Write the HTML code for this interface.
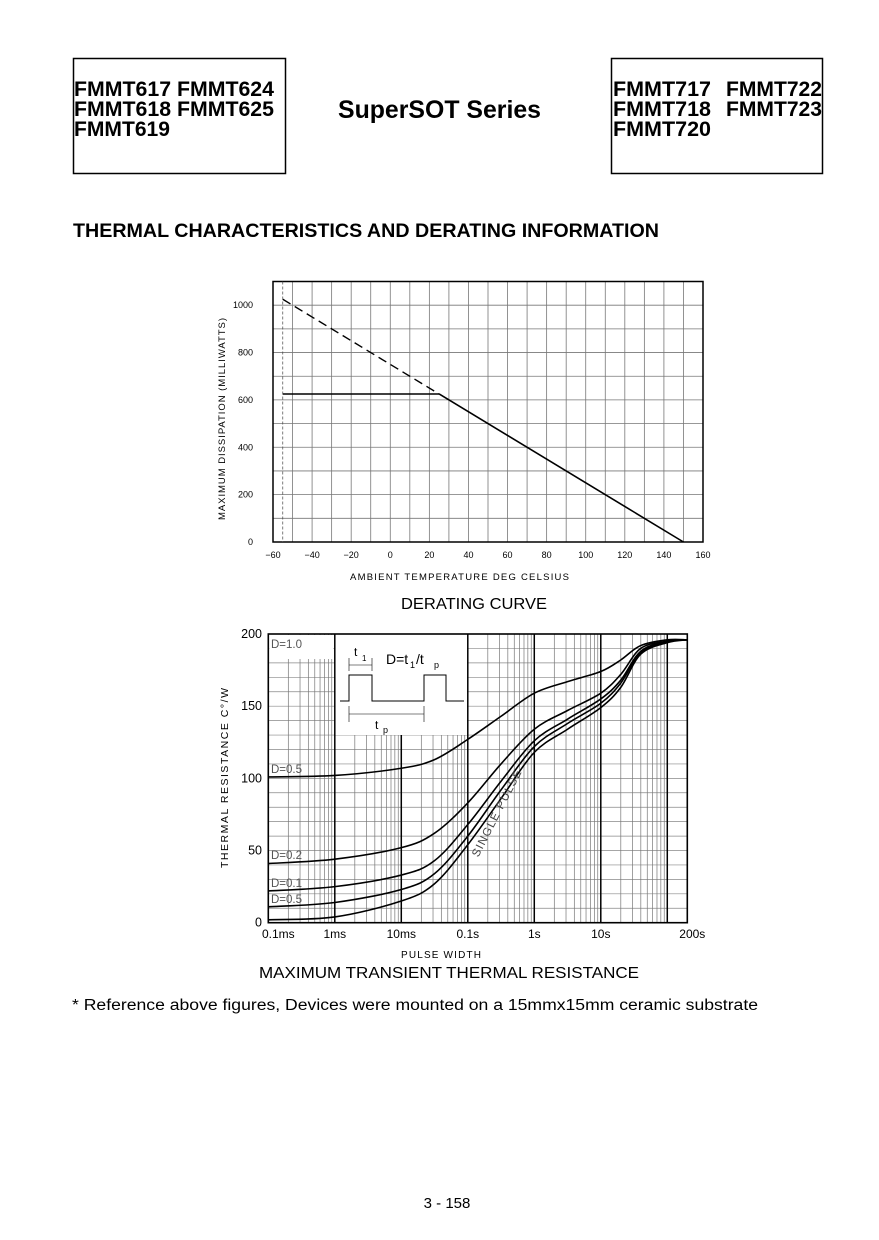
<!DOCTYPE html>
<html><head><meta charset="utf-8"><style>
body{margin:0;background:#fff}
svg{display:block;font-family:"Liberation Sans",sans-serif}
</style></head><body>
<svg id="pg" width="879" height="1240" viewBox="0 0 879 1240" xmlns="http://www.w3.org/2000/svg">
<rect width="879" height="1240" fill="#fff"/>
<g>
<rect x="73.5" y="58.5" width="212" height="115" fill="none" stroke="#000" stroke-width="1.5"/>
<g font-weight="bold" font-size="21">
<text x="74" y="96" textLength="200" lengthAdjust="spacingAndGlyphs">FMMT617 FMMT624</text>
<text x="74" y="116" textLength="200" lengthAdjust="spacingAndGlyphs">FMMT618 FMMT625</text>
<text x="74" y="136" textLength="96" lengthAdjust="spacingAndGlyphs">FMMT619</text>
</g></g>
<text x="338" y="118" font-weight="bold" font-size="25" textLength="203" lengthAdjust="spacingAndGlyphs">SuperSOT Series</text>
<g>
<rect x="611.5" y="58.5" width="211" height="115" fill="none" stroke="#000" stroke-width="1.5"/>
<g font-weight="bold" font-size="21">
<text x="613" y="96" textLength="98" lengthAdjust="spacingAndGlyphs">FMMT717</text>
<text x="726" y="96" textLength="96" lengthAdjust="spacingAndGlyphs">FMMT722</text>
<text x="613" y="116" textLength="98" lengthAdjust="spacingAndGlyphs">FMMT718</text>
<text x="726" y="116" textLength="96" lengthAdjust="spacingAndGlyphs">FMMT723</text>
<text x="613" y="136" textLength="98" lengthAdjust="spacingAndGlyphs">FMMT720</text>
</g></g>
<text x="73" y="237" font-weight="bold" font-size="19" textLength="586" lengthAdjust="spacingAndGlyphs">THERMAL CHARACTERISTICS AND DERATING INFORMATION</text>

<g id="der"></g>
<text x="474" y="609" text-anchor="middle" font-size="16" textLength="146" lengthAdjust="spacingAndGlyphs">DERATING CURVE</text>

<g id="tr"></g>
<text x="259" y="978" font-size="16" textLength="380" lengthAdjust="spacingAndGlyphs">MAXIMUM TRANSIENT THERMAL RESISTANCE</text>
<text x="72" y="1010" font-size="15.5" textLength="686" lengthAdjust="spacingAndGlyphs">* Reference above figures, Devices were mounted on a 15mmx15mm ceramic substrate</text>
<text x="447" y="1208" text-anchor="middle" font-size="15">3 - 158</text>
</svg>
<script>
// ---- Derating data ----
const derXTicks=[-60,-40,-20,0,20,40,60,80,100,120,140,160];
const derYTicks=[0,200,400,600,800,1000];
const derDashedT=[-55,25];
const derDashedP=[1025,625];
const derFlatT=[-55,25];
const derFlatP=[625,625];
const derSlopeT=[25,150];
const derSlopeP=[625,0];

// ---- Transient data (log10 seconds, °C/W) ----
const trXTickVals=[1e-4,1e-3,1e-2,0.1,1,10,200];
const trXTickLabels=["0.1ms","1ms","10ms","0.1s","1s","10s","200s"];
const trYTicks=[0,50,100,150,200];
const trT=[-4,-3,-2,-1.5,-1,-0.5,0,0.5,1,1.3,1.6,2,2.301];
const curveD05=[101,102,107,113,127,143,159,167,174,182,192,196,196];
const curveD02=[41,44,52,62,83,110,134,147,159,172,190,195,196];
const curveD01=[22,25,33,43,68,98,126,141,155,168,188,195,196];
const curveD005=[11,14,23,34,60,92,122,138,152,166,187,194.5,196];
const curveSingle=[2,4,15,27,54,86,118,134,149,163,186,194,196];

const NS="http://www.w3.org/2000/svg";
function mk(parent,tag,attrs,txt){const e=document.createElementNS(NS,tag);for(const k in attrs)e.setAttribute(k,attrs[k]);if(txt!==undefined)e.textContent=txt;parent.appendChild(e);return e;}

// Derating chart
(function(){
const g=document.getElementById('der');
const L=273,R=703,T=281.5,B=542;
const sx=v=>L+(v+60)/220*(R-L);
const sy=v=>B-v/1100*(B-T);
for(let v=-50;v<160;v+=10){const l=mk(g,'line',{x1:sx(v),x2:sx(v),y1:T,y2:B,stroke:'#777','stroke-width':0.8});
}
for(let v=100;v<1100;v+=100){const l=mk(g,'line',{x1:L,x2:R,y1:sy(v),y2:sy(v),stroke:'#777','stroke-width':0.8});
}
const fr=mk(g,'rect',{x:L,y:T,width:R-L,height:B-T,fill:'none',stroke:'#000','stroke-width':1.5});

const vl=mk(g,'line',{x1:sx(-55),x2:sx(-55),y1:T,y2:B,stroke:'#444','stroke-width':0.7,'stroke-dasharray':'3,2'});

const d=mk(g,'line',{x1:sx(derDashedT[0]),y1:sy(derDashedP[0]),x2:sx(derDashedT[1]),y2:sy(derDashedP[1]),stroke:'#000','stroke-width':1.4,'stroke-dasharray':'9,5'});

const f=mk(g,'line',{x1:sx(derFlatT[0]),y1:sy(derFlatP[0]),x2:sx(derFlatT[1]),y2:sy(derFlatP[1]),stroke:'#000','stroke-width':1.4});

const s=mk(g,'line',{x1:sx(derSlopeT[0]),y1:sy(derSlopeP[0]),x2:sx(derSlopeT[1]),y2:sy(derSlopeP[1]),stroke:'#000','stroke-width':1.6});

derXTicks.forEach(v=>{const t=mk(g,'text',{x:sx(v),y:B+16,'text-anchor':'middle','font-size':9},v<0?'\u2212'+(-v):String(v));
});
derYTicks.forEach(v=>{const t=mk(g,'text',{x:253,y:sy(v)+3,'text-anchor':'end','font-size':9},String(v));
});
const xt=mk(g,'text',{x:350,y:580,'font-size':9.5,textLength:219,lengthAdjust:'spacing'},'AMBIENT  TEMPERATURE   DEG   CELSIUS');

const yt=mk(g,'text',{x:0,y:0,'font-size':9.5,transform:'translate(225,520) rotate(-90)',textLength:202,lengthAdjust:'spacing'},'MAXIMUM  DISSIPATION    (MILLIWATTS)');

})();

// Transient chart
(function(){
const g=document.getElementById('tr');
const L=268.3,R=687.3,T=634,B=922.7;
const lmin=-4,lmax=Math.log10(200);
const sx=l=>L+(l-lmin)/(lmax-lmin)*(R-L);
const sy=v=>B-v/200*(B-T);
for(let y=10;y<200;y+=10){const l=mk(g,'line',{x1:L,x2:R,y1:sy(y),y2:sy(y),stroke:'#888','stroke-width':0.7});
}
for(let dec=-4;dec<=2;dec++){for(let m=2;m<=9;m++){const lv=dec+Math.log10(m);if(lv>=lmax)continue;
const l=mk(g,'line',{x1:sx(lv),x2:sx(lv),y1:T,y2:B,stroke:'#777','stroke-width':0.7});
}}
const ib=mk(g,'rect',{x:335,y:T,width:132,height:101,fill:'#fff'});

const lb=mk(g,'rect',{x:L+1,y:T+1,width:64,height:24,fill:'#fff'});

[-3,-1,0,1,2].forEach(dv=>{const l=mk(g,'line',{x1:sx(dv),x2:sx(dv),y1:T,y2:B,stroke:'#000','stroke-width':1.5});
});
const l10=mk(g,'line',{x1:sx(-2),x2:sx(-2),y1:735,y2:B,stroke:'#000','stroke-width':1.5});

const fr=mk(g,'rect',{x:L,y:T,width:R-L,height:B-T,fill:'none',stroke:'#000','stroke-width':1.6});

mk(g,'path',{d:'M340 701 H349 V675 H372 V701 H424 V675 H446 V701 H464',fill:'none',stroke:'#000','stroke-width':1});
mk(g,'line',{x1:349,x2:372,y1:665,y2:665,stroke:'#000','stroke-width':0.6});
mk(g,'line',{x1:349,x2:349,y1:658,y2:671,stroke:'#000','stroke-width':0.6});
mk(g,'line',{x1:372,x2:372,y1:658,y2:671,stroke:'#000','stroke-width':0.6});
mk(g,'line',{x1:349,x2:424,y1:714,y2:714,stroke:'#000','stroke-width':0.6});
mk(g,'line',{x1:349,x2:349,y1:706,y2:722,stroke:'#000','stroke-width':0.6});
mk(g,'line',{x1:424,x2:424,y1:706,y2:722,stroke:'#000','stroke-width':0.6});
mk(g,'text',{x:354,y:656,'font-size':12},'t');mk(g,'text',{x:362,y:661,'font-size':8},'1');
mk(g,'text',{x:386,y:664,'font-size':14},'D=t');mk(g,'text',{x:410,y:668,'font-size':9},'1');
mk(g,'text',{x:416,y:664,'font-size':14},'/t');mk(g,'text',{x:434,y:668,'font-size':9},'p');
mk(g,'text',{x:375,y:729,'font-size':12},'t');mk(g,'text',{x:383,y:733,'font-size':9},'p');
function path(vals){const p=trT.map((t,i)=>[sx(t),sy(vals[i])]);let d='M'+p[0][0]+' '+p[0][1];
for(let i=0;i<p.length-1;i++){const p0=p[Math.max(0,i-1)],p1=p[i],p2=p[i+1],p3=p[Math.min(p.length-1,i+2)];
d+=' C'+(p1[0]+(p2[0]-p0[0])/6)+' '+(p1[1]+(p2[1]-p0[1])/6)+' '+(p2[0]-(p3[0]-p1[0])/6)+' '+(p2[1]-(p3[1]-p1[1])/6)+' '+p2[0]+' '+p2[1];}return d;}
const curves=[[curveD05,'curve-d0-5'],[curveD02,'curve-d0-2'],[curveD01,'curve-d0-1'],[curveD005,'curve-d0-05'],[curveSingle,'curve-single-pulse']];
curves.forEach(c=>{const e=mk(g,'path',{d:path(c[0]),fill:'none',stroke:'#000','stroke-width':1.6});
});
[['D=1.0',648],['D=0.5',773],['D=0.2',859],['D=0.1',887],['D=0.5',903]].forEach(a=>{
const t=mk(g,'text',{x:271,y:a[1],'font-size':11.5,fill:'#555'},a[0]);
});
const sp=mk(g,'text',{x:0,y:0,'text-anchor':'middle','font-size':11.5,fill:'#444',transform:'translate(500,815) rotate(-63)',textLength:96,lengthAdjust:'spacing'},'SINGLE  PULSE');

trXTickVals.forEach((v,i)=>{let x=sx(Math.log10(v));if(i===0)x+=10;if(i===trXTickVals.length-1)x+=5;
const t=mk(g,'text',{x:x,y:938,'text-anchor':'middle','font-size':12},trXTickLabels[i]);
});
trYTicks.forEach(v=>{const t=mk(g,'text',{x:262,y:sy(v)+4,'text-anchor':'end','font-size':12.5},String(v));
});
const xt=mk(g,'text',{x:401,y:958,'font-size':10,textLength:80,lengthAdjust:'spacing'},'PULSE  WIDTH');

const yt=mk(g,'text',{x:0,y:0,'font-size':10.5,transform:'translate(228,868) rotate(-90)',textLength:180,lengthAdjust:'spacing'},'THERMAL  RESISTANCE    C°/W');

})();
</script>
</body></html>
